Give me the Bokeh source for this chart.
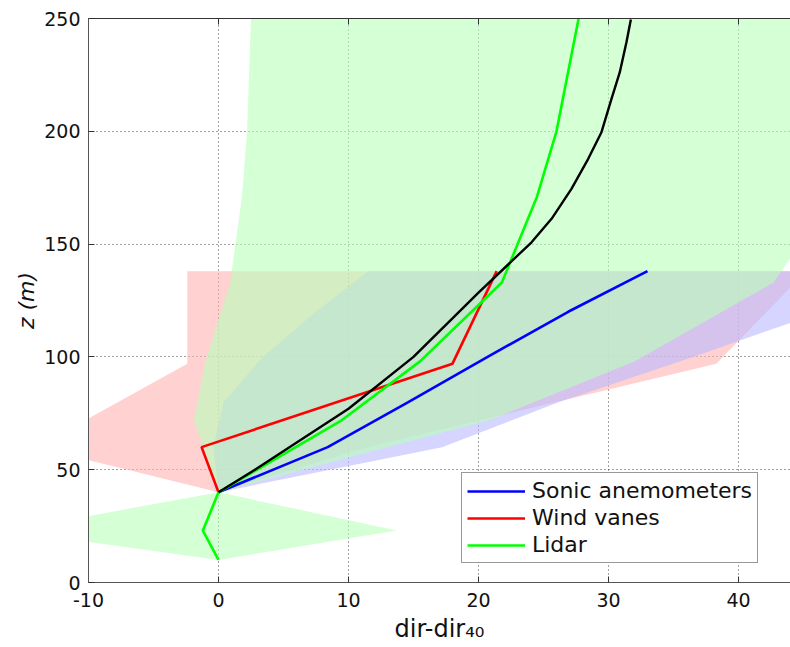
from bokeh.plotting import figure
from bokeh.models import Range1d, LinearAxis, Legend, LegendItem, FixedTicker
from bokeh.embed import file_html
from bokeh.resources import INLINE

# ---- data ----
x_ticks = [-10, 0, 10, 20, 30, 40]
y_ticks = [0, 50, 100, 150, 200, 250]

sonic_z = [40, 60, 80, 100, 120, 138]
sonic_dir = [0, 8.4, 14.6, 20.7, 26.9, 33.0]
sonic_lo = [0, -0.4, 0.4, 3.4, 7.5, 11.5]
sonic_hi = [0, 17.2, 26.2, 36.5, 46.4, 55.0]

vane_z = [40, 60, 97, 138]
vane_dir = [0, -1.3, 18.0, 21.4]
vane_lo = [0, -14.0, -2.4, -2.4]
vane_hi = [0, 11.4, 38.3, 45.2]

lidar_z = [10, 23, 40, 72, 98, 133, 171, 200, 250]
lidar_dir = [0, -1.2, 0, 9.5, 15.5, 21.8, 24.5, 26.0, 27.7]
lidar_lo = [0, -16.1, 0, -1.9, -1.0, 0.9, 1.8, 2.2, 2.5]
lidar_hi = [0, 13.7, 0, 20.9, 32.0, 42.7, 47.2, 50.0, 52.9]

model_z = [40, 50, 77, 100, 128.5, 150.8, 161.2, 174.5, 187.8, 199.6, 214.4, 226.2, 239.5, 249.6]
model_dir = [0, 2.8, 10.0, 15.0, 20.0, 24.08, 25.62, 27.15, 28.44, 29.46, 30.23, 30.87, 31.38, 31.72]

FONT = "DejaVu Sans"

p = figure(width=790, height=647, x_range=Range1d(-10, 44), y_range=Range1d(0, 250),
           output_backend="svg", toolbar_location=None,
           frame_width=702, frame_height=564,
           min_border_left=88, min_border_right=0, min_border_top=18, min_border_bottom=65)
p.background_fill_color = "white"
p.border_fill_color = "white"
p.outline_line_color = None

# shaded uncertainty bands (vanes, sonic, lidar drawn in that order)
p.harea(x1=vane_lo, x2=vane_hi, y=vane_z, fill_color="#ffb3b3", fill_alpha=0.6)
p.harea(x1=sonic_lo, x2=sonic_hi, y=sonic_z, fill_color="#b9b9ff", fill_alpha=0.6)
p.harea(x1=lidar_lo, x2=lidar_hi, y=lidar_z, fill_color="#b9ffb9", fill_alpha=0.6)

r_sonic = p.line(sonic_dir, sonic_z, line_color="#0000ff", line_width=2.6)
r_vane = p.line(vane_dir, vane_z, line_color="#ff0000", line_width=2.6)
r_lidar = p.line(lidar_dir, lidar_z, line_color="#00ff00", line_width=2.6)
p.line(model_dir, model_z, line_color="black", line_width=2.4, line_join="round")

# axes
for ax in (p.xaxis[0], p.yaxis[0]):
    ax.major_tick_in = 6
    ax.major_tick_out = 0
    ax.minor_tick_line_color = None
    ax.axis_line_color = "#555555"
    ax.major_tick_line_color = "#333333"
    ax.major_label_text_font = FONT
    ax.major_label_text_font_size = "19px"
    ax.major_label_text_color = "#111111"
p.xaxis.ticker = FixedTicker(ticks=x_ticks)
p.yaxis.ticker = FixedTicker(ticks=y_ticks)
p.xaxis.major_label_overrides = {t: str(t) for t in x_ticks}
p.xaxis.major_label_standoff = 10
p.yaxis.major_label_standoff = 8

p.xaxis.axis_label = "dir-dir\u2084\u2080"
p.xaxis.axis_label_text_font = FONT
p.xaxis.axis_label_text_font_size = "24px"
p.xaxis.axis_label_text_font_style = "normal"
p.xaxis.axis_label_text_color = "#111111"
p.xaxis.axis_label_standoff = 5

p.yaxis.axis_label = "z (m)"
p.yaxis.axis_label_text_font = FONT
p.yaxis.axis_label_text_font_size = "22px"
p.yaxis.axis_label_text_font_style = "italic"
p.yaxis.axis_label_text_color = "#111111"
p.yaxis.axis_label_standoff = 2

top = LinearAxis(ticker=FixedTicker(ticks=x_ticks), major_tick_in=6, major_tick_out=0,
                 minor_tick_line_color=None, axis_line_color="#333333",
                 major_tick_line_color="#333333",
                 major_label_overrides={t: "" for t in x_ticks},
                 major_label_standoff=0)
p.add_layout(top, "above")

p.xgrid.ticker = FixedTicker(ticks=x_ticks)
p.ygrid.ticker = FixedTicker(ticks=y_ticks)
for g in (p.xgrid[0], p.ygrid[0]):
    g.grid_line_color = "#333333"
    g.grid_line_dash = "1 3"
    g.grid_line_width = 1
    g.grid_line_alpha = 0.9

legend = Legend(items=[LegendItem(label="Sonic anemometers", renderers=[r_sonic]),
                       LegendItem(label="Wind vanes", renderers=[r_vane]),
                       LegendItem(label="Lidar", renderers=[r_lidar])],
                location=(373, 19), orientation="vertical",
                label_text_font=FONT, label_text_font_size="22px", label_text_color="#111111",
                glyph_width=58, glyph_height=22, label_height=22, label_standoff=7,
                spacing=2, padding=5, margin=0,
                border_line_color="#333333", border_line_width=1,
                background_fill_color="white", background_fill_alpha=1.0)
p.add_layout(legend, "center")

open("out.html", "w").write(file_html(p, INLINE))
